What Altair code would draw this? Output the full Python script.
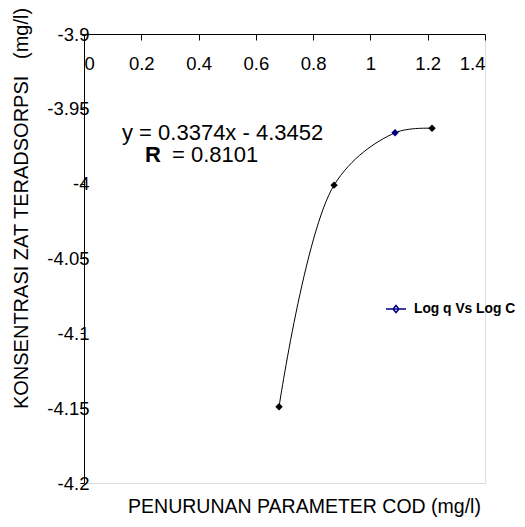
import altair as alt
import pandas as pd

# data
x_vals = [0.681, 0.873, 1.086, 1.215]
y_vals = [-4.149, -4.001, -3.966, -3.963]
series_name = "Log q Vs Log C"

x_ticks = [0, 0.2, 0.4, 0.6, 0.8, 1.0, 1.2, 1.4]
y_ticks = [-4.2, -4.15, -4.1, -4.05, -4.0, -3.95, -3.9]

eq_text = "y = 0.3374x - 4.3452"
r_label = "R"
r_text = "= 0.8101"

df = pd.DataFrame({"x": x_vals, "y": y_vals, "series": [series_name] * len(x_vals)})

FONT = "Arial, Liberation Sans, sans-serif"
W, H = 401, 449

xs = alt.Scale(domain=[0, 1.4], nice=False, zero=False)
ys = alt.Scale(domain=[-4.2, -3.9], nice=False, zero=False)

x_enc = alt.X(
    "x:Q", scale=xs,
    axis=alt.Axis(
        orient="bottom", offset=-H, values=x_ticks, format=".1~f",
        grid=False, domainColor="black", tickColor="black", tickSize=6,
        labelPadding=14, labelFontSize=18.5, labelFont=FONT, labelColor="black",
        title="PENURUNAN PARAMETER COD (mg/l)", titleFont=FONT, titleFontSize=19.5,
        titleFontWeight="normal", titleColor="black",
        titleX=220, titleY=472, titleBaseline="middle", titleAlign="center",
    ),
)
y_enc = alt.Y(
    "y:Q", scale=ys,
    axis=alt.Axis(
        values=y_ticks, labelExpr="'-' + format(-datum.value, '.2~f')",
        grid=False, domainColor="black", tickColor="black", tickSize=4,
        labelPadding=-9, labelFontSize=18.5, labelFont=FONT, labelColor="black",
        labelBaseline="middle",
        title="KONSENTRASI ZAT TERADSORPSI\u00a0\u00a0\u00a0(mg/l)", titleFont=FONT,
        titleFontSize=20, titleFontWeight="normal", titleColor="black",
        titleAngle=270, titleX=-63, titleY=174, titleBaseline="middle", titleAlign="center",
    ),
)

line = alt.Chart(df).mark_line(interpolate="catmull-rom", color="black", strokeWidth=1).encode(
    x=x_enc, y=y_enc
)

points = alt.Chart(df).mark_point(shape="diamond", filled=True, size=55, opacity=1).encode(
    x="x:Q", y="y:Q",
    color=alt.condition(alt.datum.x == 1.086, alt.value("#000080"), alt.value("black")),
)

legend_path = "M-1,0H1M0,-0.35L0.3,0L0,0.35L-0.3,0Z"
legend_layer = alt.Chart(df).mark_point(opacity=0).encode(
    x="x:Q", y="y:Q",
    shape=alt.Shape(
        "series:N", scale=alt.Scale(range=[legend_path]),
        legend=alt.Legend(
            title=None, orient="none", legendX=301, legendY=264, padding=0,
            symbolSize=400, symbolStrokeColor="#000080", symbolFillColor="black",
            symbolOpacity=1, symbolStrokeWidth=1.5,
            labelFont=FONT, labelFontSize=13.8, labelFontWeight="bold", labelColor="black",
            labelOffset=7,
        ),
    ),
)

ann = pd.DataFrame({
    "x": [0.1327, 0.213, 0.307],
    "y": [-3.9708, -3.9855, -3.9855],
    "t": [eq_text, r_label, r_text],
    "w": ["normal", "bold", "normal"],
})
ann_norm = alt.Chart(ann).transform_filter(alt.datum.w == "normal").mark_text(
    align="left", baseline="alphabetic", font=FONT, fontSize=22, color="black"
).encode(x="x:Q", y="y:Q", text="t:N")
ann_bold = alt.Chart(ann).transform_filter(alt.datum.w == "bold").mark_text(
    align="left", baseline="alphabetic", font=FONT, fontSize=22, fontWeight="bold", color="black"
).encode(x="x:Q", y="y:Q", text="t:N")

chart = alt.layer(line, points, legend_layer, ann_norm, ann_bold).properties(
    width=W, height=H,
    autosize=alt.AutoSizeParams(type="none"),
    padding={"left": 76, "top": 26, "right": 32, "bottom": 36},
).configure_view(stroke=None).configure(background="white")

chart.save("out.html", embed_options={"renderer": "svg", "actions": False})
